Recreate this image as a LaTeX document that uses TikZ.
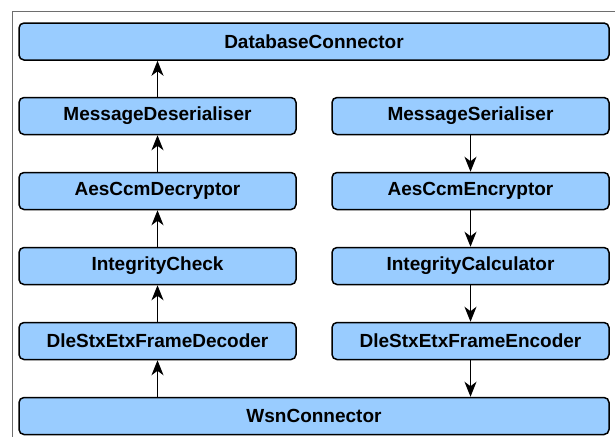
\documentclass[tikz,border=0pt]{standalone}
\usepackage{fontspec}
\setmainfont{Liberation Sans}
\usetikzlibrary{arrows.meta}
\definecolor{boxblue}{RGB}{153,204,255}
\definecolor{framegray}{RGB}{110,110,110}
\tikzset{
  comp/.style={draw=black, line width=1.5pt, fill=boxblue, rounded corners=5pt,
    minimum height=37pt, inner sep=0pt,
    font=\fontsize{19}{23}\selectfont\bfseries},
  leftcomp/.style={comp, minimum width=277pt},
  widecomp/.style={comp, minimum width=590pt},
  flow/.style={draw=black, line width=1.3pt, -{Stealth[length=15pt,width=12pt,inset=4.5pt]}}
}
\begin{document}
\begin{tikzpicture}[x=1pt,y=-1pt]
\useasboundingbox (0,0) rectangle (615,437);
\draw[framegray, line width=1pt] (615,11) -- (12,11) -- (12,437);
\node[widecomp] (db) at (314,41.5) {DatabaseConnector};
\node[leftcomp] (mdes) at (157.5,116) {MessageDeserialiser};
\node[leftcomp] (dec) at (157.5,191) {AesCcmDecryptor};
\node[leftcomp] (ichk) at (157.5,266) {IntegrityCheck};
\node[leftcomp] (fdec) at (157.5,341) {DleStxEtxFrameDecoder};
\node[leftcomp] (mser) at (470.5,116) {MessageSerialiser};
\node[leftcomp] (enc) at (470.5,191) {AesCcmEncryptor};
\node[leftcomp] (ical) at (470.5,266) {IntegrityCalculator};
\node[leftcomp] (fenc) at (470.5,341) {DleStxEtxFrameEncoder};
\node[widecomp] (wsn) at (314,416) {WsnConnector};
\draw[flow] (wsn.north -| fdec.south) -- (fdec.south);
\draw[flow] (fdec) -- (ichk);
\draw[flow] (ichk) -- (dec);
\draw[flow] (dec) -- (mdes);
\draw[flow] (mdes.north) -- (db.south -| mdes.north);
\draw[flow] (mser) -- (enc);
\draw[flow] (enc) -- (ical);
\draw[flow] (ical) -- (fenc);
\draw[flow] (fenc.south) -- (wsn.north -| fenc.south);
\end{tikzpicture}
\end{document}
